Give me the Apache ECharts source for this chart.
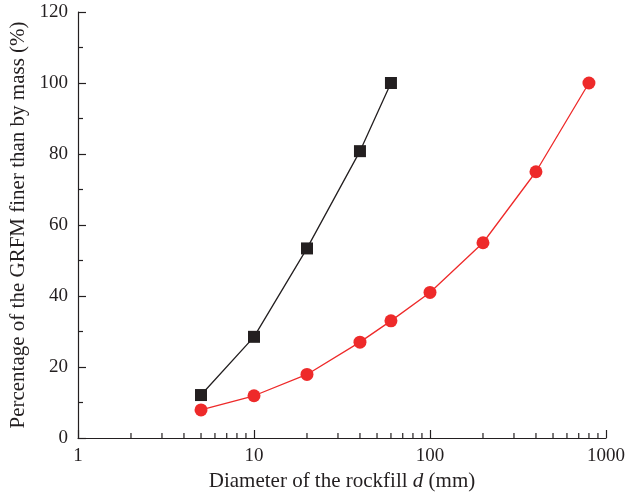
<!DOCTYPE html>
<html>
<head>
<meta charset="utf-8">
<script src="https://cdn.jsdelivr.net/npm/echarts@6/dist/echarts.min.js"></script>
<style>
html,body{margin:0;padding:0;background:#fff;}
#chart{width:643px;height:498px;}
</style>
</head>
<body>
<div id="chart"></div>
<script>
// Grading curves: diameter (mm) vs percentage finer by mass
const gradedDiameters = [5, 10, 20, 40, 60];
const gradedPercent = [12.1, 28.5, 53.4, 80.8, 100];
const prototypeDiameters = [5, 10, 20, 40, 60, 100, 200, 400, 800];
const prototypePercent = [7.9, 11.9, 17.9, 27, 33, 41, 55, 75, 100];
const xMinorValues = [2, 3, 4, 5, 6, 7, 8, 9, 20, 30, 40, 50, 60, 70, 80, 90, 200, 300, 400, 500, 600, 700, 800, 900];

const FONT = '"Liberation Serif", "DejaVu Serif", serif';
const INK = '#231f20';
const zip = (xs, ys) => xs.map((x, i) => [x, ys[i]]);

const chart = echarts.init(document.getElementById('chart'));
chart.setOption({
  animation: false,
  grid: { left: 78, right: 37, top: 12, bottom: 60, containLabel: false, outerBoundsMode: 'none' },
  xAxis: {
    type: 'log', logBase: 10, min: 1, max: 1000,
    name: 'Diameter of the rockfill {i|d} (mm)',
    nameLocation: 'middle', nameGap: 32,
    nameTextStyle: { fontFamily: FONT, fontSize: 21, color: INK,
      rich: { i: { fontFamily: FONT, fontSize: 21, fontStyle: 'italic', color: INK } } },
    axisLine: { lineStyle: { color: INK, width: 1.2 } },
    axisTick: { inside: true, length: 8, lineStyle: { color: INK, width: 1.2 } },
    axisLabel: { fontFamily: FONT, fontSize: 19, color: INK, margin: 9, formatter: v => String(Math.round(v)) },
    splitLine: { show: false }
  },
  yAxis: {
    type: 'value', min: 0, max: 120, interval: 20,
    name: 'Percentage of the GRFM finer than by mass (%)',
    nameLocation: 'middle', nameGap: 45,
    nameTextStyle: { fontFamily: FONT, fontSize: 21, color: INK },
    axisLine: { show: true, lineStyle: { color: INK, width: 1.2 } },
    axisTick: { inside: true, length: 8, lineStyle: { color: INK, width: 1.2 } },
    minorTick: { show: true, splitNumber: 2, length: 5, lineStyle: { color: INK, width: 1.2 } },
    axisLabel: { fontFamily: FONT, fontSize: 19, color: INK, margin: 10 },
    splitLine: { show: false }
  },
  series: [
    {
      type: 'line', data: zip(gradedDiameters, gradedPercent),
      symbol: 'rect', symbolSize: 12,
      lineStyle: { color: INK, width: 1.3 },
      itemStyle: { color: INK }
    },
    {
      type: 'line', data: zip(prototypeDiameters, prototypePercent),
      symbol: 'circle', symbolSize: 13,
      lineStyle: { color: '#ee2a2a', width: 1.3 },
      itemStyle: { color: '#ee2a2a' }
    }
  ]
});

// Minor ticks of the log axis, placed through the axis scale
const minorTicks = xMinorValues.map(v => {
  const p = chart.convertToPixel({ gridIndex: 0 }, [v, 0]);
  return {
    type: 'line',
    shape: { x1: p[0], y1: p[1], x2: p[0], y2: p[1] - 5 },
    style: { stroke: INK, lineWidth: 1.2 },
    silent: true
  };
});
chart.setOption({ graphic: minorTicks });
</script>
</body>
</html>
